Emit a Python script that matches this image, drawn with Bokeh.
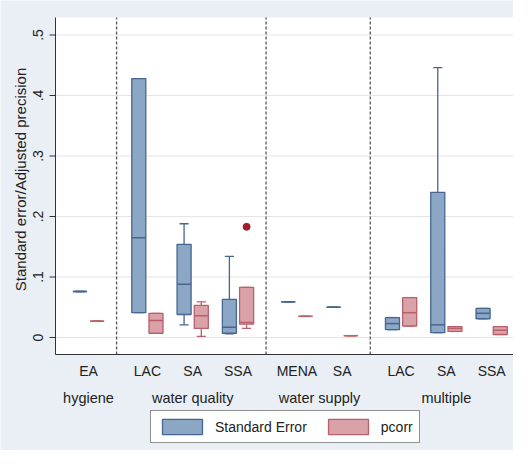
import math
from bokeh.plotting import figure
from bokeh.models import Range1d, Legend, LegendItem, ColumnDataSource
from bokeh.core.properties import value
from bokeh.embed import file_html
from bokeh.resources import INLINE

# ---- data ----
cats = ["EA", "LAC", "SA", "SSA", "MENA", "SA", "LAC", "SA", "SSA"]
groups = ["hygiene", "water quality", "water supply", "multiple"]
group_of = [0, 1, 1, 1, 2, 2, 3, 3, 3]

se_lo = [0.076, 0.041, 0.021, 0.006, 0.059, 0.050, 0.013, 0.008, 0.031]
se_q1 = [0.076, 0.041, 0.038, 0.007, 0.059, 0.050, 0.013, 0.008, 0.031]
se_med = [0.076, 0.165, 0.088, 0.017, 0.059, 0.050, 0.023, 0.021, 0.040]
se_q3 = [0.076, 0.428, 0.154, 0.063, 0.059, 0.050, 0.033, 0.240, 0.048]
se_hi = [0.076, 0.428, 0.188, 0.134, 0.059, 0.050, 0.033, 0.446, 0.048]

pc_lo = [0.027, 0.007, 0.002, 0.015, 0.035, 0.003, 0.019, 0.010, 0.005]
pc_q1 = [0.027, 0.007, 0.015, 0.022, 0.035, 0.003, 0.019, 0.010, 0.005]
pc_med = [0.027, 0.028, 0.036, 0.025, 0.035, 0.003, 0.041, 0.015, 0.012]
pc_q3 = [0.027, 0.040, 0.053, 0.083, 0.035, 0.003, 0.066, 0.018, 0.018]
pc_hi = [0.027, 0.040, 0.059, 0.083, 0.035, 0.003, 0.066, 0.018, 0.018]

pc_out_cat = [3]
pc_out_val = [0.183]

y_ticks = [0, 0.1, 0.2, 0.3, 0.4, 0.5]
y_tick_labels = ["0", ".1", ".2", ".3", ".4", ".5"]

y_title = "Standard error/Adjusted precision"
series_names = ["Standard Error", "pcorr"]

# ---- layout (style constants) ----
W, H = 513, 450
GAP = 0.3          # extra space between groups (category units)
OFF = 0.19         # offset of each box from the category centre
BW = 0.31          # box width
CAP = 0.2          # whisker cap width
PXX, X0PX = 45.3, 88     # pixels per category unit; pixel of first category
PXY, Y0PX = 605.0, 337   # pixels per y unit; pixel of y = 0

pos = [i + GAP * g for i, g in enumerate(group_of)]


def fx(px):  # canvas pixel -> x data
    return (px - X0PX) / PXX


def fy(py):  # canvas pixel -> y data
    return (Y0PX - py) / PXY


XS, XE = fx(0), fx(W)
YS, YE = fy(H), fy(0)
PL, PR, PB, PT = fx(55), XE, fy(354), fy(17)   # plot region

FONT = value("Liberation Sans")
TXT = "#222222"
BG = "#e9eff4"
SE_FILL, SE_LINE = "#8ca6c5", "#46668f"
PC_FILL, PC_LINE = "#d9a2a8", "#b9606a"

p = figure(width=W, height=H, output_backend="svg", toolbar_location=None,
           x_range=Range1d(XS, XE), y_range=Range1d(YS, YE),
           min_border=0, x_axis_location=None, y_axis_location=None)
p.background_fill_color = BG
p.border_fill_color = BG
p.outline_line_color = None
p.xgrid.visible = False
p.ygrid.visible = False

# white plot region
p.quad(left=[PL], right=[PR], bottom=[PB], top=[PT], fill_color="white", line_color=None)

# horizontal grid lines
p.segment(x0=[PL] * len(y_ticks), x1=[PR] * len(y_ticks), y0=y_ticks, y1=y_ticks,
          line_color="#e4e4e4", line_width=1)

# group separators
seps = []
for g in range(1, len(groups)):
    left = max(pp for pp, gg in zip(pos, group_of) if gg == g - 1)
    right = min(pp for pp, gg in zip(pos, group_of) if gg == g)
    seps.append((left + right) / 2 - 0.03)
p.segment(x0=seps, x1=seps, y0=[PB] * len(seps), y1=[PT] * len(seps),
          line_color="#555555", line_dash="3 2", line_width=1.3)

# axes lines
p.segment(x0=[PL, PL], y0=[PB, PB], x1=[PL, PR], y1=[PT, PB], line_color="#333333", line_width=1)
# y ticks
tick_len = 6 / PXX
p.segment(x0=[PL - tick_len] * len(y_ticks), x1=[PL] * len(y_ticks), y0=y_ticks, y1=y_ticks,
          line_color="#333333", line_width=1)
p.text(x=[fx(37)] * len(y_ticks), y=y_ticks, text=y_tick_labels, angle=math.pi / 2,
       text_align="center", text_baseline="middle", text_font=FONT,
       text_font_size="14px", text_color=TXT)
p.text(x=[fx(20)], y=[fy(179)], text=[y_title], angle=math.pi / 2,
       text_align="center", text_baseline="middle", text_font=FONT,
       text_font_size="15px", text_color=TXT)

# category and group labels
p.text(x=pos, y=[fy(370)] * len(pos), text=cats, text_align="center", text_baseline="middle",
       text_font=FONT, text_font_size="14px", text_color=TXT)
gpos = []
for g in range(len(groups)):
    members = [pp for pp, gg in zip(pos, group_of) if gg == g]
    gpos.append((min(members) + max(members)) / 2)
p.text(x=gpos, y=[fy(397)] * len(gpos), text=groups, text_align="center", text_baseline="middle",
       text_font=FONT, text_font_size="14.5px", text_color=TXT)


def draw_boxes(xs, lo, q1, med, q3, hi, fill, line):
    src = ColumnDataSource(dict(x=xs, lo=lo, q1=q1, med=med, q3=q3, hi=hi,
                                l=[x - BW / 2 for x in xs], r=[x + BW / 2 for x in xs],
                                cl=[x - CAP / 2 for x in xs], cr=[x + CAP / 2 for x in xs]))
    p.segment(x0="x", y0="q3", x1="x", y1="hi", source=src, line_color=line, line_width=1.3)
    p.segment(x0="x", y0="q1", x1="x", y1="lo", source=src, line_color=line, line_width=1.3)
    p.segment(x0="cl", y0="hi", x1="cr", y1="hi", source=src, line_color=line, line_width=1.3)
    p.segment(x0="cl", y0="lo", x1="cr", y1="lo", source=src, line_color=line, line_width=1.3)
    r = p.vbar(x="x", width=BW, bottom="q1", top="q3", source=src,
               fill_color=fill, line_color=line, line_width=1.3)
    p.segment(x0="l", y0="med", x1="r", y1="med", source=src, line_color=line, line_width=1.5)
    return r


r_se = draw_boxes([pp - OFF for pp in pos], se_lo, se_q1, se_med, se_q3, se_hi, SE_FILL, SE_LINE)
r_pc = draw_boxes([pp + OFF for pp in pos], pc_lo, pc_q1, pc_med, pc_q3, pc_hi, PC_FILL, PC_LINE)

p.scatter([pos[c] + OFF for c in pc_out_cat], pc_out_val, size=7,
          fill_color="#9e1f2b", line_color="#9e1f2b")

legend = Legend(items=[LegendItem(label=series_names[0], renderers=[r_se]),
                       LegendItem(label=series_names[1], renderers=[r_pc])],
                orientation="horizontal", location=(150, 7))
legend.glyph_width = 50
legend.glyph_height = 19
legend.label_text_font = "Liberation Sans"
legend.label_text_font_size = "14px"
legend.label_text_color = TXT
legend.label_standoff = 8
legend.spacing = 16
legend.padding = 6
legend.margin = 0
legend.border_line_color = "#222222"
legend.border_line_width = 1
legend.background_fill_color = "white"
p.add_layout(legend, "center")

open("out.html", "w").write(file_html(p, INLINE))
